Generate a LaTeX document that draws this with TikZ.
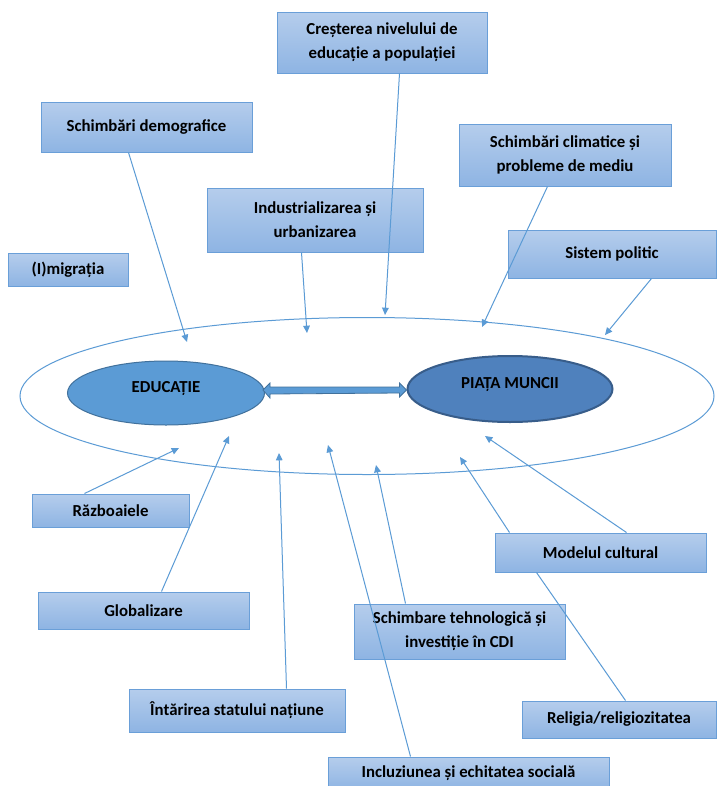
\documentclass[tikz,border=0pt]{standalone}
\usepackage{fontspec}
\setmainfont{Carlito}
\usetikzlibrary{arrows.meta,calc,shapes.geometric}
\definecolor{ln}{HTML}{5B9BD5}
\definecolor{boxtop}{HTML}{B5CDEC}
\definecolor{boxbot}{HTML}{8EB4E3}
\definecolor{boxedge}{HTML}{6A9FD8}
\definecolor{edufill}{HTML}{5B9BD5}
\definecolor{eduedge}{HTML}{41719C}
\definecolor{piafill}{HTML}{4F81BD}
\definecolor{piaedge}{HTML}{385D8A}
\begin{document}
\begin{tikzpicture}[x=0.75pt,y=-0.75pt,
  font=\fontsize{12.6}{18}\selectfont\bfseries,
  fbox/.style={draw=boxedge, line width=0.75pt, top color=boxtop, bottom color=boxbot,
    rectangle, align=center, inner sep=0pt, text=black},
  conn/.style={draw=ln, line width=0.75pt, -{Triangle[length=5.5pt,width=5pt]}},
  plainconn/.style={draw=ln, line width=0.75pt},
  ov/.style={ellipse, inner sep=0pt, text=black, text height=7pt, text depth=8pt}]
\useasboundingbox (0,0) rectangle (717,786);
\clip (0,0) rectangle (717,786);
\fill[white] (0,0) rectangle (717,786);

% outer ellipse
\node[ellipse, draw=ln, line width=0.75pt, minimum width={694*0.75pt}, minimum height={157*0.75pt}] (outer) at (367,396) {};

% inner ellipses
\node[ov, fill=edufill, draw=eduedge, line width=0.75pt, minimum width={197*0.75pt}, minimum height={64*0.75pt}] (edu) at (166,393) {EDUCAȚIE};
\node[ov, fill=piafill, draw=piaedge, line width=1.5pt, minimum width={205*0.75pt}, minimum height={66*0.75pt}] (pia) at (510,389) {PIAȚA MUNCII};

% double arrow between them
\coordinate (dl) at ($(edu.east |- pia.west)+(0,1)$);
\coordinate (dr) at ($(pia.west)+(0,1)$);
\filldraw[fill=edufill, draw=eduedge, line width=0.6pt]
  ($(dl)+(-2,0)$) -- ++(7,-7) -- ++(0,4) -- ($(dr)+(-7,-3)$) -- ++(0,-4) -- ++(7,7)
  -- ++(-7,7) -- ++(0,-4) -- ($(dl)+(5,4)$) -- ++(0,4) -- cycle;

% boxes
\node[fbox, minimum width={210*0.75pt}, minimum height={61*0.75pt}] (cre) at (382,42.5) {Creșterea nivelului de\\educație a populației};
\node[fbox, minimum width={211*0.75pt}, minimum height={50*0.75pt}] (dem) at (146.5,127) {Schimbări demografice};
\node[fbox, minimum width={120*0.75pt}, minimum height={33*0.75pt}] (mig) at (68,269.5) {(I)migrația};
\node[fbox, minimum width={216*0.75pt}, minimum height={64*0.75pt}] (ind) at (315,220) {Industrializarea și\\urbanizarea};
\node[fbox, minimum width={212*0.75pt}, minimum height={62*0.75pt}] (cli) at (565,155) {Schimbări climatice și\\probleme de mediu};
\node[fbox, minimum width={208*0.75pt}, minimum height={48*0.75pt}] (pol) at (612,254) {Sistem politic};
\node[fbox, minimum width={157*0.75pt}, minimum height={33*0.75pt}] (raz) at (110.5,510.5) {Războaiele};
\node[fbox, minimum width={211*0.75pt}, minimum height={37*0.75pt}] (glo) at (143.5,610.5) {Globalizare};
\node[fbox, minimum width={211*0.75pt}, minimum height={39*0.75pt}] (mod) at (600.5,552.5) {Modelul cultural};
\node[fbox, minimum width={211*0.75pt}, minimum height={55*0.75pt}] (teh) at (459.5,631.5) {Schimbare tehnologică și\\investiție în CDI};
\node[fbox, minimum width={194*0.75pt}, minimum height={37*0.75pt}] (rel) at (619,719.5) {Religia/religiozitatea};
\node[fbox, minimum width={216*0.75pt}, minimum height={43*0.75pt}] (sta) at (237,710.5) {Întărirea statului națiune};
\node[fbox, minimum width={281*0.75pt}, minimum height={33*0.75pt}] (inc) at (468.5,773.5) {Incluziunea și echitatea socială};

% arrow targets
\coordinate (t1) at (385,315);
\coordinate (t2) at (187,342);
\coordinate (t3) at (307,333);
\coordinate (t4) at (482,327);
\coordinate (t5) at (605,335);
\coordinate (t6) at (179,448);
\coordinate (t7) at (229,436);
\coordinate (t8) at (279,453);
\coordinate (t9) at (328,445);
\coordinate (t10) at (376,465);
\coordinate (t11) at (460,457);
\coordinate (t12) at (485,436);

% connectors
\draw[conn] ($(cre.south west)+(123,0)$) -- (t1);
\draw[conn] ($(dem.south west)+(88,0)$) -- (t2);
\draw[conn] ($(ind.south west)+(95,0)$) -- (t3);
\draw[conn] ($(cli.south west)+(89,0)$) -- (t4);
\draw[conn] ($(pol.south west)+(144,0)$) -- (t5);
\draw[conn] ($(raz.north west)+(53,0)$) -- (t6);
\draw[conn] ($(glo.north west)+(124,0)$) -- (t7);
\draw[conn] ($(sta.north west)+(158,0)$) -- (t8);
\draw[conn] ($(inc.north west)+(83,0)$) -- (t9);
\draw[conn] ($(teh.north west)+(52,0)$) -- (t10);
\draw[conn] ($(mod.north west)+(15,0)$) -- (t11);
\draw[conn] ($(mod.north west)+(132,0)$) -- (t12);
\draw[plainconn] ($(rel.north west)+(104,0)$) -- ($(mod.south west)+(42,0)$);
\end{tikzpicture}
\end{document}
